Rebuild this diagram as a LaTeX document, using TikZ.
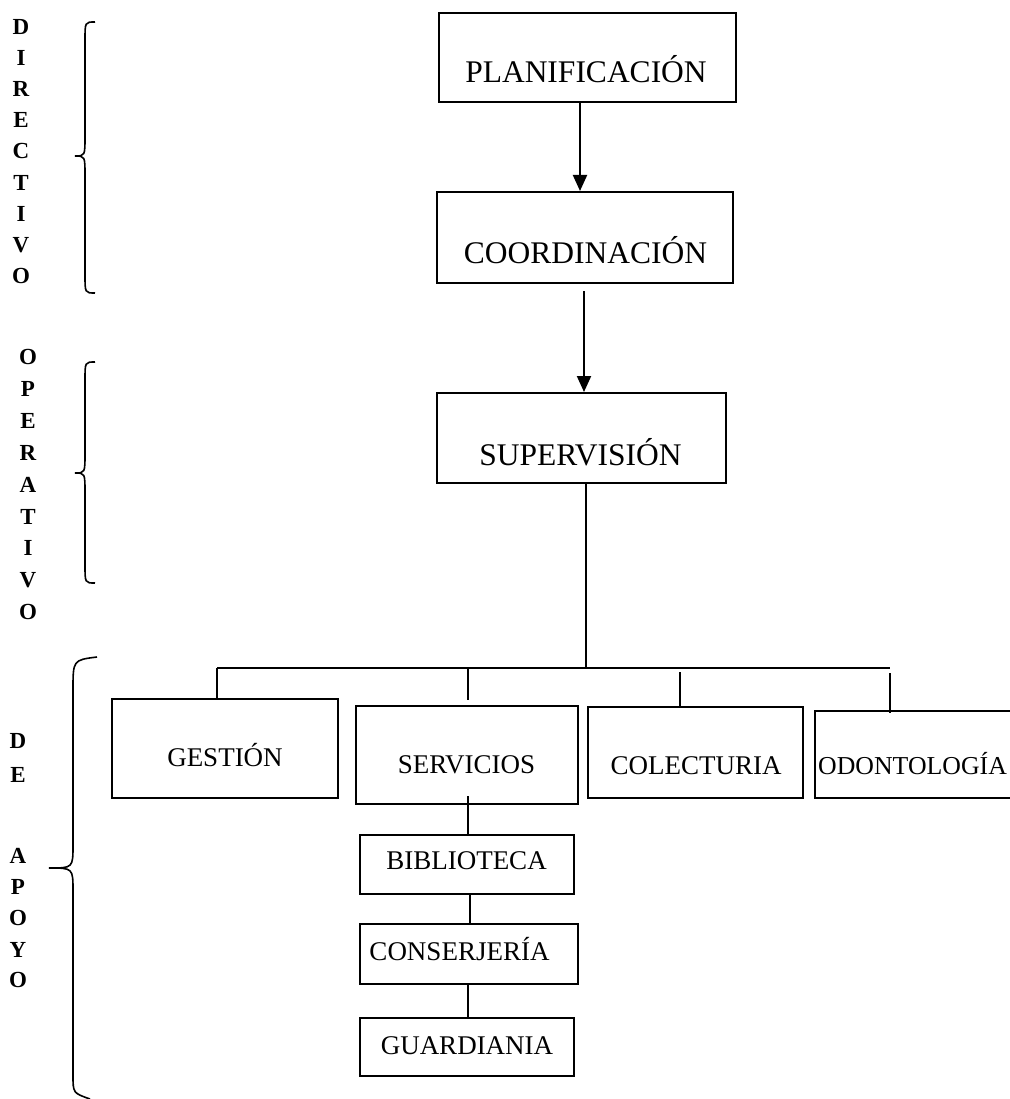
\documentclass[tikz,border=0pt]{standalone}
\usepackage{fontspec}
\setmainfont{Liberation Serif}
\usetikzlibrary{arrows.meta}
\begin{document}
\begin{tikzpicture}[x=1pt,y=-1pt,
  box/.style={draw, line width=2pt, rectangle, inner sep=0pt},
  lbl/.style={anchor=base, font=\fontsize{27}{31}\selectfont, inner sep=0pt},
  biglbl/.style={anchor=base, font=\fontsize{31.5}{36}\selectfont, inner sep=0pt},
  conn/.style={line width=2pt},
  arr/.style={line width=2pt, -{Triangle[length=16pt,width=14pt]}},
  brace/.style={line width=1.6pt},
  vletter/.style={font=\fontsize{23}{26}\selectfont\bfseries, inner sep=0pt}]
\useasboundingbox (0,0) rectangle (1009,1099);

% boxes
\node[box, minimum width=297pt, minimum height=89pt] (plan) at (587.5,57.5) {};
\node[box, minimum width=296pt, minimum height=91pt] (coord) at (585,237.5) {};
\node[box, minimum width=289pt, minimum height=90pt] (sup) at (581.5,438) {};
\node[box, minimum width=226pt, minimum height=99pt] (gest) at (225,748.5) {};
\node[box, minimum width=222pt, minimum height=98pt] (serv) at (467,755) {};
\node[box, minimum width=215pt, minimum height=91pt] (cole) at (695.5,752.5) {};
\node[box, minimum width=225pt, minimum height=87pt] (odon) at (927.5,754.5) {};
\node[box, minimum width=214pt, minimum height=59pt] (bib) at (467,864.5) {};
\node[box, minimum width=218pt, minimum height=60pt] (cons) at (469,954) {};
\node[box, minimum width=214pt, minimum height=58pt] (guard) at (467,1047) {};

% texts
\node[biglbl] (tplan) at (586,83) {PLANIFICACIÓN};
\node[biglbl] (tcoord) at (585.5,263) {COORDINACIÓN};
\node[biglbl] (tsup) at (580.5,465) {SUPERVISIÓN};
\node[lbl] (tgest) at (225,766) {GESTIÓN};
\node[lbl] (tserv) at (466.5,773) {SERVICIOS};
\node[lbl] (tcole) at (696,774) {COLECTURIA};
\node[lbl, anchor=base west, font=\fontsize{25.8}{30}\selectfont] (todon) at (818,774) {ODONTOLOGÍA};
\node[lbl] (tbib) at (466.5,869) {BIBLIOTECA};
\node[lbl] (tcons) at (459.5,960) {CONSERJERÍA};
\node[lbl] (tguard) at (467,1054) {GUARDIANIA};

% connectors
\coordinate (a1) at (580,0);
\draw[arr] (plan.south -| a1) -- (coord.north -| a1);
\coordinate (a2) at (584,0);
\path (coord.south -| a2) ++(0,7) coordinate (c2s);
\draw[arr] (c2s) -- (sup.north -| a2);
\coordinate (busM) at (586,668);
\coordinate (busL) at (217,668);
\coordinate (busR) at (890,668);
\draw[conn] (sup.south -| busM) -- (busM);
\draw[conn] (busL) -- (busR);
\draw[conn] (busL) -- (gest.north -| busL);
\coordinate (ds) at (468,668);
\coordinate (de) at (468,700);
\draw[conn] (ds) -- (de);
\coordinate (dc) at (680,672);
\draw[conn] (dc) -- (cole.north -| dc);
\coordinate (do) at (890,673);
\coordinate (doe) at (890,713);
\draw[conn] (do) -- (doe);
\coordinate (sb) at (468,796);
\draw[conn] (sb) -- (bib.north -| sb);
\coordinate (bc) at (470,0);
\draw[conn] (bib.south -| bc) -- (cons.north -| bc);
\coordinate (cg) at (468,0);
\draw[conn] (cons.south -| cg) -- (guard.north -| cg);

% braces
\draw[brace] (95,22) .. controls (85,22) .. (85,40) -- (85,136) .. controls (85,156) .. (75,156) .. controls (85,156) .. (85,176) -- (85,275) .. controls (85,293) .. (95,293);
\draw[brace] (95,362) .. controls (85,362) .. (85,380) -- (85,453) .. controls (85,473) .. (75,473) .. controls (85,473) .. (85,493) -- (85,565) .. controls (85,583) .. (95,583);
\draw[brace] (97,657) .. controls (73,660) .. (73,690) -- (73,845) .. controls (73,868) .. (49,868) .. controls (73,868) .. (73,891) -- (73,1075) .. controls (73,1093) .. (90,1099);

% vertical letters
\foreach \l [count=\i from 0] in {D,I,R,E,C,T,I,V,O}
  \node[vletter] (dir\i) at (21,{27+31.1*\i}) {\l};
\foreach \l [count=\i from 0] in {O,P,E,R,A,T,I,V,O}
  \node[vletter] (ope\i) at (28,{357+31.9*\i}) {\l};
\foreach \l/\y [count=\i] in {D/741,E/775,A/856,P/887,O/918,Y/950,O/980}
  \node[vletter] (apo\i) at (18,\y) {\l};
\end{tikzpicture}
\end{document}
